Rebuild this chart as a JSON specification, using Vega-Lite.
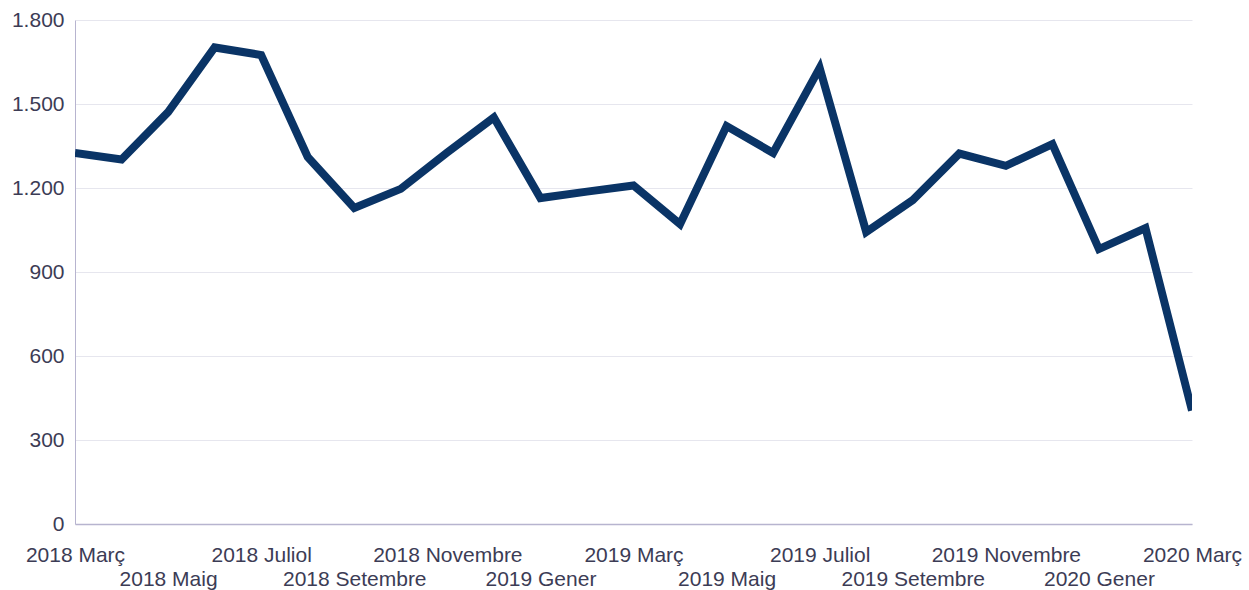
{
  "$schema": "https://vega.github.io/schema/vega-lite/v6.json",
  "autosize": "none",
  "width": 1117,
  "height": 504,
  "padding": {"left": 75, "top": 20, "right": 57, "bottom": 66},
  "background": "white",
  "config": {
    "view": {"stroke": null},
    "font": "Liberation Sans",
    "axis": {"labelFont": "Liberation Sans", "labelFontSize": 21, "labelColor": "#3c3c55"}
  },
  "data": {
    "values": [
      {"i": 0, "mes": "2018 Març", "valor": 1325},
      {"i": 1, "mes": "2018 Abril", "valor": 1302},
      {"i": 2, "mes": "2018 Maig", "valor": 1471},
      {"i": 3, "mes": "2018 Juny", "valor": 1702},
      {"i": 4, "mes": "2018 Juliol", "valor": 1675},
      {"i": 5, "mes": "2018 Agost", "valor": 1311},
      {"i": 6, "mes": "2018 Setembre", "valor": 1129},
      {"i": 7, "mes": "2018 Octubre", "valor": 1197},
      {"i": 8, "mes": "2018 Novembre", "valor": 1327},
      {"i": 9, "mes": "2018 Desembre", "valor": 1452},
      {"i": 10, "mes": "2019 Gener", "valor": 1164},
      {"i": 11, "mes": "2019 Febrer", "valor": 1187},
      {"i": 12, "mes": "2019 Març", "valor": 1209},
      {"i": 13, "mes": "2019 Abril", "valor": 1071},
      {"i": 14, "mes": "2019 Maig", "valor": 1421},
      {"i": 15, "mes": "2019 Juny", "valor": 1325},
      {"i": 16, "mes": "2019 Juliol", "valor": 1629},
      {"i": 17, "mes": "2019 Agost", "valor": 1043},
      {"i": 18, "mes": "2019 Setembre", "valor": 1157},
      {"i": 19, "mes": "2019 Octubre", "valor": 1323},
      {"i": 20, "mes": "2019 Novembre", "valor": 1279},
      {"i": 21, "mes": "2019 Desembre", "valor": 1357},
      {"i": 22, "mes": "2020 Gener", "valor": 982},
      {"i": 23, "mes": "2020 Febrer", "valor": 1057},
      {"i": 24, "mes": "2020 Març", "valor": 405}
    ]
  },
  "mark": {"type": "line", "color": "#0a3466", "strokeWidth": 8, "strokeJoin": "miter", "clip": true},
  "encoding": {
    "x": {
      "field": "mes",
      "type": "ordinal",
      "sort": {"field": "i"},
      "scale": {"type": "point", "padding": 0},
      "axis": {
        "title": null,
        "labelAngle": 0,
        "ticks": false,
        "domain": true,
        "domainColor": "#b7b4cf",
        "domainWidth": 1.5,
        "grid": false,
        "labelPadding": 20,
        "labelOverlap": false,
        "labelLineHeight": 24,
        "labelExpr": "indexof(['2018 Març','2018 Juliol','2018 Novembre','2019 Març','2019 Juliol','2019 Novembre','2020 Març'], datum.label) >= 0 ? datum.label : (indexof(['2018 Maig','2018 Setembre','2019 Gener','2019 Maig','2019 Setembre','2020 Gener'], datum.label) >= 0 ? ['', datum.label] : '')"
      }
    },
    "y": {
      "field": "valor",
      "type": "quantitative",
      "scale": {"domain": [0, 1800]},
      "axis": {
        "title": null,
        "values": [0, 300, 600, 900, 1200, 1500, 1800],
        "ticks": false,
        "domain": true,
        "domainColor": "#b7b4cf",
        "domainWidth": 1,
        "gridColor": "#e6e6ee",
        "gridWidth": 1,
        "labelPadding": 11,
        "labelExpr": "replace(format(datum.value, ','), ',', '.')"
      }
    }
  }
}
